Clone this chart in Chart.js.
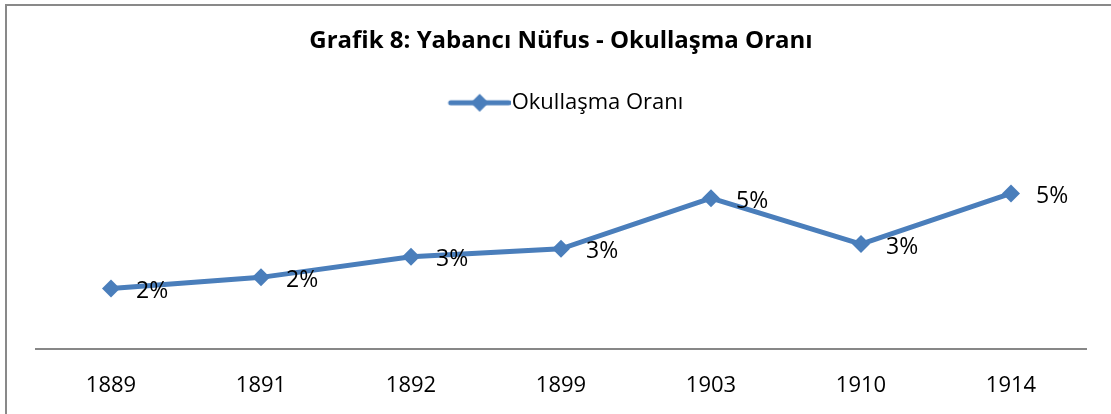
<!DOCTYPE html>
<html>
<head>
<meta charset="utf-8">
<script src="https://cdn.jsdelivr.net/npm/chart.js@4.4.1/dist/chart.umd.min.js"></script>
<style>
html,body{margin:0;padding:0;background:#fff;}
#wrap{width:1111px;height:414px;position:relative;}
</style>
</head>
<body>
<div id="wrap"><canvas id="c" width="1111" height="414"></canvas></div>
<script>
const categories = ["1889","1891","1892","1899","1903","1910","1914"];
const values = [0.019, 0.0225, 0.029, 0.0315, 0.0475, 0.033, 0.049];
const valueLabels = ["2%","2%","3%","3%","5%","3%","5%"];
const seriesName = "Okullaşma Oranı";
const titleText = "Grafik 8: Yabancı Nüfus - Okullaşma Oranı";

const BLUE = "#4a7ebb";
const FONT = "'Open Sans', sans-serif";

const sym = document.createElement('canvas');
sym.width = 82; sym.height = 20;
(function(){
  const g = sym.getContext('2d');
  g.strokeStyle = BLUE; g.lineWidth = 5; g.lineCap = 'round';
  g.beginPath(); g.moveTo(22,10); g.lineTo(80,10); g.stroke();
  g.fillStyle = BLUE;
  g.beginPath(); g.moveTo(51,1); g.lineTo(60,10); g.lineTo(51,19); g.lineTo(42,10); g.closePath(); g.fill();
})();

const framePlugin = {
  id: 'frame',
  beforeDraw(chart){
    const ctx = chart.ctx;
    ctx.save();
    ctx.fillStyle = '#fff';
    ctx.fillRect(0,0,chart.width,chart.height);
    ctx.strokeStyle = '#898989';
    ctx.lineWidth = 2;
    ctx.beginPath();
    ctx.moveTo(6, 414); ctx.lineTo(6, 5); ctx.lineTo(1111, 5);
    ctx.stroke();
    ctx.restore();
  }
};

const labelPlugin = {
  id: 'valLabels',
  afterDatasetsDraw(chart){
    const ctx = chart.ctx;
    const meta = chart.getDatasetMeta(0);
    ctx.save();
    ctx.font = "23px " + FONT;
    ctx.fillStyle = '#000';
    ctx.textAlign = 'left';
    ctx.textBaseline = 'middle';
    meta.data.forEach((pt, i) => {
      ctx.fillText(valueLabels[i], pt.x + 25, pt.y + 3);
    });
    ctx.restore();
  }
};

new Chart(document.getElementById('c'), {
  type: 'line',
  data: {
    labels: categories,
    datasets: [{
      label: seriesName,
      data: values,
      borderColor: BLUE,
      backgroundColor: BLUE,
      borderWidth: 5,
      pointStyle: 'rectRot',
      pointRadius: 9,
      pointBackgroundColor: BLUE,
      pointBorderColor: BLUE,
      pointBorderWidth: 0,
      tension: 0,
      fill: false
    }]
  },
  options: {
    responsive: false,
    animation: false,
    layout: { padding: { left: 36, right: 25, top: 0, bottom: -9 } },
    plugins: {
      title: {
        display: true,
        text: titleText,
        color: '#000',
        font: { family: FONT, size: 24, weight: 'bold' },
        padding: { top: 27, bottom: 26 }
      },
      legend: {
        display: true,
        position: 'top',
        labels: {
          color: '#000',
          font: { family: FONT, size: 22 },
          usePointStyle: true,
          pointStyleWidth: 62,
          boxHeight: 20,
          padding: 10,
          generateLabels(chart){
            return [{ text: seriesName, pointStyle: sym, fillStyle: BLUE, strokeStyle: BLUE, lineWidth: 0, hidden: false, datasetIndex: 0, fontColor: '#000' }];
          }
        }
      },
      tooltip: { enabled: false }
    },
    scales: {
      x: {
        offset: true,
        grid: { display: false, drawTicks: false },
        border: { display: true, color: '#878787', width: 2 },
        ticks: { color: '#000', font: { family: FONT, size: 22 }, padding: 24 }
      },
      y: {
        display: false,
        min: 0,
        max: 0.071
      }
    }
  },
  plugins: [framePlugin, labelPlugin]
});
</script>
</body>
</html>
